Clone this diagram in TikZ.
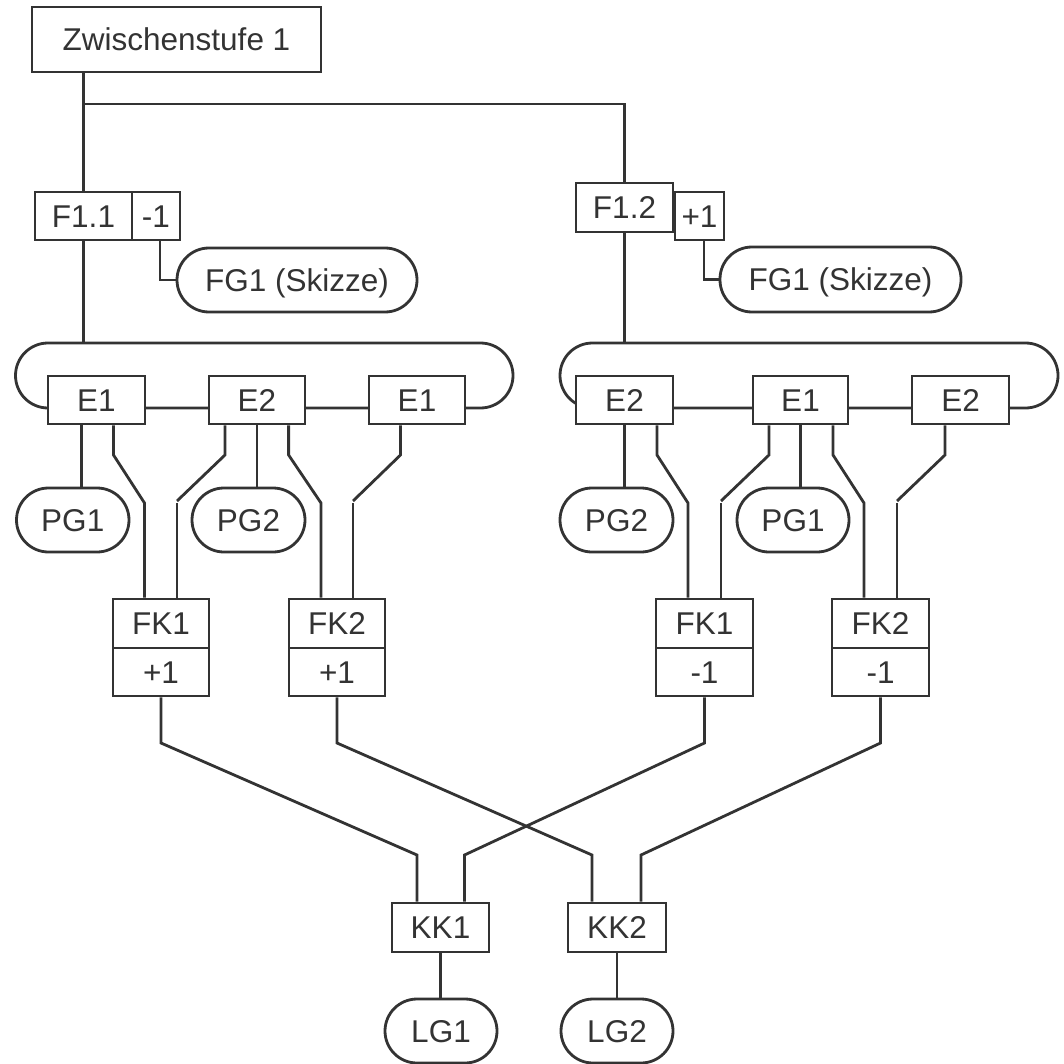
\documentclass[tikz,border=0pt]{standalone}
\usepackage{fontspec}
\setmainfont{Liberation Sans}
\definecolor{linegray}{HTML}{333333}
\definecolor{textgray}{HTML}{333333}

% vertical drop from a box, a slanted jog, then down into the next box
\newcommand\branch[2]{%
  \draw[wire] (#1) -- (#1 |- kneeA) -- (#2 |- kneeB) -- (#2);}
% same, but the jog and the lower leg are separate strokes
\newcommand\branchsplit[2]{%
  \draw[wire] (#1) -- (#1 |- kneeA) -- (#2 |- kneeAB);
  \draw[wire] (#2 |- kneeB) -- (#2);}
\newcommand\lowbranch[2]{%
  \draw[wire] (#1) -- (#1 |- kneeC) -- (#2 |- kneeD) -- (#2);}

\begin{document}
\begin{tikzpicture}[x=1pt,y=-1pt,
  wire/.style={draw=linegray, line width=2.8pt},
  box/.style={draw=linegray, line width=2.8pt, fill=white, rectangle,
    inner sep=0pt, text=textgray, text height=22.5pt, text depth=0pt,
    font=\fontsize{31.5}{36}\selectfont},
  pill/.style={box, rounded corners=32pt},
  sz/.style 2 args={minimum width=#1, minimum height=#2}]

\useasboundingbox (0,0) rectangle (1063,1064);

% level markers
\coordinate (jn) at (0,104);
\coordinate (grptop) at (0,343);
\coordinate (kneeA) at (0,455);
\coordinate (kneeAB) at (0,501);
\coordinate (kneeB) at (0,503);
\coordinate (kneeC) at (0,743);
\coordinate (kneeD) at (0,855);

% loops around the element rows
\draw[wire, rounded corners=32.5pt] (15.5,343) rectangle (513,408);
\draw[wire, rounded corners=32.5pt] (560,343) rectangle (1058,408);

% top stage
\node[box, sz={289pt}{65pt}] (zw) at (176.5,39.5) {Zwischenstufe 1};

% first branch
\node[box, sz={97pt}{48pt}] (f11) at (83.5,216) {F1.1};
\node[box, sz={48pt}{48pt}] (m1) at (156,216) {-1};
\node[pill, sz={240pt}{64pt}] (fg1l) at (297,280) {FG1 (Skizze)};

% second branch
\node[box, sz={97pt}{49pt}] (f12) at (624.5,207.5) {F1.2};
\node[box, sz={49pt}{48pt}] (p1) at (699.5,216) {+1};
\node[pill, sz={241pt}{65pt}] (fg1r) at (840.5,279.5) {FG1 (Skizze)};

% element rows
\node[box, sz={97pt}{48pt}] (e1a) at (96.5,400) {E1};
\node[box, sz={96pt}{48pt}] (e2a) at (257,400) {E2};
\node[box, sz={96pt}{48pt}] (e1b) at (417,400) {E1};
\node[box, sz={97pt}{48pt}] (e2c) at (624.5,400) {E2};
\node[box, sz={95pt}{48pt}] (e1c) at (800.5,400) {E1};
\node[box, sz={97pt}{48pt}] (e2d) at (960.5,400) {E2};

% part groups
\node[pill, sz={112.5pt}{64pt}] (pg1a) at (72.75,520) {PG1};
\node[pill, sz={113pt}{64pt}] (pg2a) at (248.5,520) {PG2};
\node[pill, sz={113pt}{64pt}] (pg2c) at (616.5,520) {PG2};
\node[pill, sz={112pt}{64pt}] (pg1c) at (793,520) {PG1};

% FK boxes with their values
\node[box, sz={96pt}{49pt}] (fk1a) at (161,623.5) {FK1};
\node[box, sz={96pt}{48pt}] (fk1av) at (161,672) {+1};
\node[box, sz={96pt}{49pt}] (fk2a) at (337,623.5) {FK2};
\node[box, sz={96pt}{48pt}] (fk2av) at (337,672) {+1};
\node[box, sz={97pt}{49pt}] (fk1c) at (704.5,623.5) {FK1};
\node[box, sz={97pt}{48pt}] (fk1cv) at (704.5,672) {-1};
\node[box, sz={97pt}{49pt}] (fk2c) at (880.5,623.5) {FK2};
\node[box, sz={97pt}{48pt}] (fk2cv) at (880.5,672) {-1};

% KK boxes and load groups
\node[box, sz={97pt}{49pt}] (kk1) at (440.5,927.5) {KK1};
\node[box, sz={98pt}{49pt}] (kk2) at (617,927.5) {KK2};
\node[pill, sz={112pt}{64pt}] (lg1) at (441,1031) {LG1};
\node[pill, sz={112pt}{64pt}] (lg2) at (617,1031) {LG2};

% upper connectors
\draw[wire] (f11.north) -- (f11.north |- zw.south);
\draw[wire] (f11.north |- jn) -| (f12.north);
\draw[wire] (f11.south) -- (f11.south |- grptop);
\draw[wire] (f12.south) -- (f12.south |- grptop);
\draw[wire] ([xshift=4pt]m1.south) |- (fg1l.west);
\draw[wire] ([xshift=4.5pt]p1.south) |- (fg1r.west);

% elements to part groups
\coordinate (s1) at ([xshift=-15pt]e1a.south);
\draw[wire] (s1) -- (s1 |- pg1a.north);
\draw[wire] (e2a.south) -- (e2a.south |- pg2a.north);
\draw[wire] (e2c.south) -- (e2c.south |- pg2c.north);
\draw[wire] (e1c.south) -- (e1c.south |- pg1c.north);

% elements to FK boxes, left half
\coordinate (a1) at ([xshift=17pt]e1a.south);
\coordinate (b1) at ([xshift=-16.5pt]fk1a.north);
\coordinate (a2) at ([xshift=-32pt]e2a.south);
\coordinate (b2) at ([xshift=16pt]fk1a.north);
\coordinate (a3) at ([xshift=31.6pt]e2a.south);
\coordinate (b3) at ([xshift=-16pt]fk2a.north);
\coordinate (a4) at ([xshift=-16.5pt]e1b.south);
\coordinate (b4) at ([xshift=16pt]fk2a.north);
\branch{a1}{b1}
\branchsplit{a2}{b2}
\branch{a3}{b3}
\branchsplit{a4}{b4}

% elements to FK boxes, right half
\coordinate (a5) at ([xshift=32.5pt]e2c.south);
\coordinate (b5) at ([xshift=-16.5pt]fk1c.north);
\coordinate (a6) at ([xshift=-31.5pt]e1c.south);
\coordinate (b6) at ([xshift=16.5pt]fk1c.north);
\coordinate (a7) at ([xshift=32.5pt]e1c.south);
\coordinate (b7) at ([xshift=-16.5pt]fk2c.north);
\coordinate (a8) at ([xshift=-15.5pt]e2d.south);
\coordinate (b8) at ([xshift=16.5pt]fk2c.north);
\branch{a5}{b5}
\branchsplit{a6}{b6}
\branch{a7}{b7}
\branchsplit{a8}{b8}

% FK values to KK boxes
\coordinate (k1) at ([xshift=-23.5pt]kk1.north);
\coordinate (k2) at ([xshift=-25pt]kk2.north);
\coordinate (k3) at ([xshift=24pt]kk1.north);
\coordinate (k4) at ([xshift=24pt]kk2.north);
\lowbranch{fk1av.south}{k1}
\lowbranch{fk2av.south}{k2}
\lowbranch{fk1cv.south}{k3}
\lowbranch{fk2cv.south}{k4}

% KK boxes to load groups
\draw[wire] (kk1.south) -- (kk1.south |- lg1.north);
\draw[wire] (kk2.south) -- (kk2.south |- lg2.north);
\end{tikzpicture}
\end{document}
